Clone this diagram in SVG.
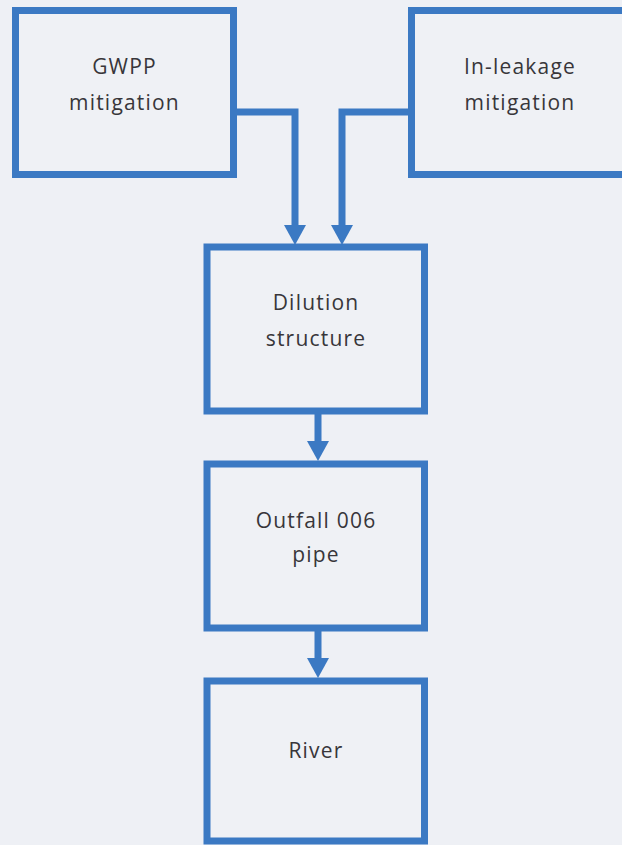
<svg xmlns="http://www.w3.org/2000/svg" width="622" height="845" viewBox="0 0 622 845">
<defs>
<style>
.box{fill:#eff1f5;stroke:#3b79c3;stroke-width:7}
.lbl{font-family:"Open Sans","Liberation Sans",sans-serif;font-size:21px;fill:#38363a;text-anchor:middle;letter-spacing:1.2px}
.conn{fill:none;stroke:#3b79c3;stroke-width:7}
</style>
<marker id="ah" viewBox="0 0 20 22" refX="0" refY="11" markerWidth="20" markerHeight="22" markerUnits="userSpaceOnUse" orient="auto">
<path d="M0,0 L20,11 L0,22 z" fill="#3b79c3"/>
</marker>
</defs>
<rect x="0" y="0" width="622" height="845" fill="#eef0f5"/>
<g id="gwpp">
<rect class="box" x="15.5" y="10.5" width="218" height="164"/>
<text class="lbl" x="124.5" y="74">GWPP</text>
<text class="lbl" x="124.5" y="110">mitigation</text>
</g>
<g id="inleakage">
<rect class="box" x="411.5" y="10.5" width="230" height="164"/>
<text class="lbl" x="520" y="74">In-leakage</text>
<text class="lbl" x="520" y="110">mitigation</text>
</g>
<g id="dilution">
<rect class="box" x="207" y="247" width="217.5" height="164"/>
<text class="lbl" x="316" y="310">Dilution</text>
<text class="lbl" x="316" y="346">structure</text>
</g>
<g id="outfall">
<rect class="box" x="207" y="464" width="217.5" height="164"/>
<text class="lbl" x="316" y="528">Outfall 006</text>
<text class="lbl" x="316" y="562">pipe</text>
</g>
<g id="river">
<rect class="box" x="207" y="681" width="217.5" height="160"/>
<text class="lbl" x="316" y="758">River</text>
</g>
<g id="connectors">
<path class="conn" d="M237 112 H295 V225" marker-end="url(#ah)"/>
<path class="conn" d="M408 112 H342 V225" marker-end="url(#ah)"/>
<path class="conn" d="M318 414 V441" marker-end="url(#ah)"/>
<path class="conn" d="M318 631 V658" marker-end="url(#ah)"/>
</g>
</svg>
